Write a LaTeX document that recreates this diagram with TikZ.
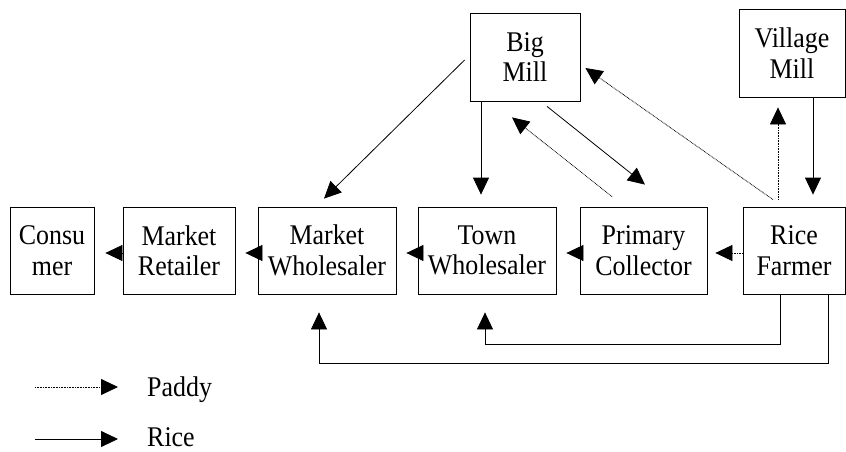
\documentclass[tikz,border=0pt]{standalone}
\usepackage{fontspec}
\setmainfont[FakeStretch=0.91]{Liberation Serif}
\usetikzlibrary{arrows.meta}
\tikzset{
  stage/.style={draw,line width=0.8pt,align=center,inner sep=0pt,
    font=\fontsize{28.5}{30.5}\selectfont,minimum height=87pt},
  legendtext/.style={inner sep=0pt,font=\fontsize{28.5}{30.5}\selectfont},
  rice/.style={line width=0.8pt,-{Triangle[length=17pt,width=16pt]}},
  paddy/.style={line width=0.8pt,dash pattern=on 0.8pt off 0.8pt,
    -{Triangle[length=17pt,width=16pt]}}
}
\begin{document}
\begin{tikzpicture}[x=1pt,y=-1pt]
\useasboundingbox (0,0) rectangle (846,452);
% boxes
\node[stage,minimum width=84pt] (consumer) at (52,250.5) {Consu\\mer};
\node[stage,minimum width=112pt] (retailer) at (179,250.5) {Market\\Retailer};
\node[stage,minimum width=138pt] (mwhole) at (327,250.5) {Market\\Wholesaler};
\node[stage,minimum width=138pt] (twhole) at (487,250.5) {Town\\Wholesaler};
\node[stage,minimum width=127pt] (collector) at (643.5,250.5) {Primary\\Collector};
\node[stage,minimum width=102pt] (farmer) at (794,250.5) {Rice\\Farmer};
\node[stage,minimum width=110pt,minimum height=88pt] (bigmill) at (525,57) {Big\\Mill};
\node[stage,minimum width=106pt,minimum height=88pt] (vmill) at (792,53) {Village\\Mill};
% along the chain
\draw[paddy] ([shift={(0,2.5)}]farmer.west) -- ([shift={(8,2.5)}]collector.east);
\draw[rice] ([shift={(0,2.5)}]collector.west) -- ([shift={(10,2.5)}]twhole.east);
\draw[rice] ([shift={(0,2.5)}]twhole.west) -- ([shift={(10,2.5)}]mwhole.east);
\draw[rice] ([shift={(0,2.5)}]mwhole.west) -- ([shift={(10,2.5)}]retailer.east);
\draw[rice] ([shift={(0,2.5)}]retailer.west) -- ([shift={(11,2.5)}]consumer.east);
% mills
\draw[rice] ([shift={(-5,3)}]bigmill.west) -- ([shift={(-3,-8)}]mwhole.north);
\draw[rice] ([shift={(-44,0)}]bigmill.south) -- ([shift={(-6,-12)}]twhole.north);
\draw[rice] ([shift={(22,5)}]bigmill.south) -- ([shift={(1.5,-22)}]collector.north);
\draw[paddy] ([shift={(-31.5,-10)}]collector.north) -- ([shift={(-13,16)}]bigmill.south);
\draw[paddy] ([shift={(-21,-7)}]farmer.north) -- ([shift={(5,11)}]bigmill.east);
\draw[paddy] ([shift={(-16,-7)}]farmer.north) -- ([shift={(-14,10)}]vmill.south);
\draw[rice] ([shift={(21,0)}]vmill.south) -- ([shift={(19,-12)}]farmer.north);
% farmer to wholesalers
\draw[rice] ([shift={(-14,0)}]farmer.south) -- ++(0,50) -| ([shift={(-2,18)}]twhole.south);
\draw[rice] ([shift={(34,0)}]farmer.south) -- ++(0,69) -| ([shift={(-8,18)}]mwhole.south);
% legend
\node[legendtext,anchor=base west] (paddylbl) at (147,396) {Paddy};
\node[legendtext,anchor=base west] (ricelbl) at (147,446) {Rice};
\coordinate (paddyfrom) at (35,387);
\coordinate (ricefrom) at (35,439);
\draw[paddy] (paddyfrom) -- ([shift={(-29,-9)}]paddylbl.base west);
\draw[rice] (ricefrom) -- ([shift={(-29,-7)}]ricelbl.base west);
\end{tikzpicture}
\end{document}
